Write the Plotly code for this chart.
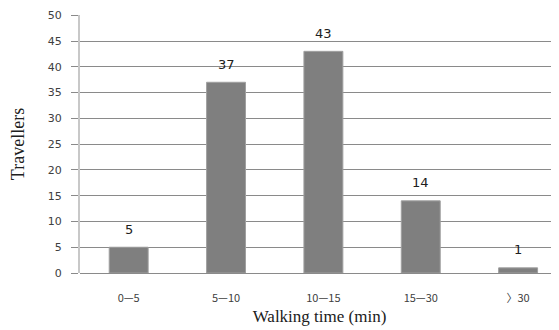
import plotly.graph_objects as go

categories = ["0—5", "5—10", "10—15", "15—30", "〉30"]
travellers = [5, 37, 43, 14, 1]
y_ticks = [0, 5, 10, 15, 20, 25, 30, 35, 40, 45, 50]

fig = go.Figure(go.Bar(
    x=categories, y=travellers,
    width=0.4,
    marker=dict(color="#7f7f7f", line=dict(color="#a0a0a0", width=1)),
))

for c, v in zip(categories, travellers):
    fig.add_annotation(
        x=c, y=v, text=str(v), showarrow=False,
        yanchor="middle", yshift=18,
        font=dict(family="DejaVu Sans", size=13, color="#202020"),
    )

fig.update_layout(
    width=551, height=322,
    margin=dict(l=72, r=0, t=7, b=57, autoexpand=False),
    paper_bgcolor="white", plot_bgcolor="white",
    showlegend=False,
)
fig.update_xaxes(
    range=[-0.5, 4.42],
    automargin=False,
    showgrid=False,
    showline=False,
    ticks="",
    ticklabelstandoff=17,
    tickfont=dict(family="Noto Sans CJK SC", size=11, color="#404040"),
    title=dict(text="Walking time (min)", standoff=6,
               font=dict(family="Liberation Serif", size=17, color="#202020")),
)
fig.update_yaxes(
    range=[0, 50.05],
    automargin=False,
    tickvals=y_ticks,
    ticklabeloverflow="allow",
    showgrid=True, gridcolor="#8a8a8a", gridwidth=1,
    showline=True, linecolor="#c8c8c8", linewidth=2,
    zeroline=True, zerolinecolor="#8a8a8a", zerolinewidth=1,
    ticks="outside", ticklen=7, tickcolor="#8a8a8a",
    ticklabelstandoff=7,
    tickfont=dict(family="DejaVu Sans", size=11, color="#404040"),
    title=dict(text="Travellers", standoff=20,
               font=dict(family="Liberation Serif", size=18, color="#202020")),
)

fig.write_html("out.html")
